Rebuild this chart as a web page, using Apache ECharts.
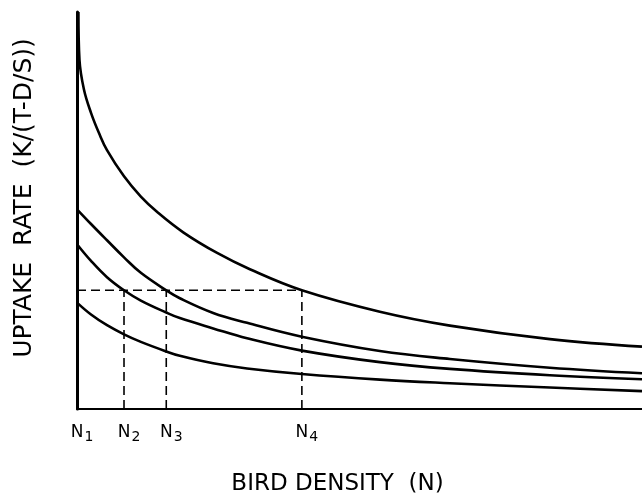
<!DOCTYPE html>
<html>
<head>
<meta charset="utf-8">
<script src="https://cdn.jsdelivr.net/npm/echarts@6/dist/echarts.min.js"></script>
<style>
  html, body { margin: 0; padding: 0; background: #fff; }
  #chart { width: 642px; height: 501px; }
</style>
</head>
<body>
<div id="chart"></div>
<script>
// bird density (x) and uptake rate (y)
const densityTop = [0.25, 0.44, 1.24, 2.48, 3.89, 5.31, 8.32, 11.3, 14.2, 18.8, 24.8, 30.6, 39.8, 53.6, 66, 83.7, 100]
const rateTop = [100, 87.9, 80.4, 74.6, 69.5, 65.2, 58.6, 53.5, 49.6, 44.5, 39.3, 35.2, 29.9, 24.5, 21.0, 17.6, 15.7]

const density = [0, 2.48, 5.31, 8.32, 11.3, 15.8, 18.2, 24.1, 30.1, 39.8, 53.6, 66, 83.7, 100]
const rateSecond = [50.3, 46.6, 42.5, 38.2, 34.3, 29.9, 27.9, 24.2, 21.7, 18.2, 14.6, 12.6, 10.4, 9.0]
const rateThird = [41.5, 37.3, 33.2, 29.9, 27.3, 24.3, 22.9, 20.3, 17.8, 14.7, 11.8, 10.1, 8.5, 7.5]
const rateBottom = [26.8, 23.8, 21.1, 18.8, 16.9, 14.5, 13.4, 11.5, 10.2, 8.8, 7.4, 6.5, 5.4, 4.5]

// the marked densities N1..N4 and the common uptake level
const nValues = [0, 8.32, 15.8, 39.8]
const nSubs = ['1', '2', '3', '4']
const uptakeLevel = 29.9

const zip = (xs, ys) => xs.map((x, i) => [x, ys[i]])

const curve = (data) => ({
  type: 'line',
  data: data,
  smooth: 0.4,
  symbol: 'none',
  lineStyle: { color: '#000', width: 2.6 },
  silent: true
})

const dashed = (data) => ({
  type: 'line',
  data: data,
  symbol: 'none',
  lineStyle: { color: '#000', width: 1.6, type: [9, 5] },
  silent: true
})

const series = [
  curve(zip(densityTop, rateTop)),
  curve(zip(density, rateSecond)),
  curve(zip(density, rateThird)),
  curve(zip(density, rateBottom)),
  dashed([[nValues[0], uptakeLevel], [nValues[3], uptakeLevel]])
]
nValues.slice(1).forEach(n => {
  series.push(dashed([[n, 0], [n, uptakeLevel]]))
})

const chart = echarts.init(document.getElementById('chart'))

chart.setOption({
  backgroundColor: '#fff',
  animation: false,
  textStyle: { fontFamily: 'DejaVu Sans', color: '#000' },
  grid: { left: 77, right: 0, top: 12, bottom: 91 },
  xAxis: {
    type: 'value',
    min: 0,
    max: 100,
    name: 'BIRD DENSITY  (N)',
    nameLocation: 'middle',
    nameGap: 64,
    nameTextStyle: { fontSize: 23, color: '#000', padding: [0, 44, 0, 0] },
    axisLine: { lineStyle: { color: '#000', width: 2 } },
    axisTick: { show: false },
    splitLine: { show: false },
    axisLabel: {
      customValues: nValues,
      margin: 13,
      formatter: (v) => {
        const i = nValues.indexOf(v)
        return '{p|}{n|N}{s|' + nSubs[i] + '}'
      },
      rich: {
        p: { width: 10 },
        n: { fontSize: 17, color: '#000' },
        s: { fontSize: 14, color: '#000', padding: [8, 0, 0, 1] }
      }
    }
  },
  yAxis: {
    type: 'value',
    min: 0,
    max: 100,
    name: 'UPTAKE  RATE  (K/(T-D/S))',
    nameLocation: 'middle',
    nameGap: 40,
    nameTextStyle: { fontSize: 25, color: '#000', padding: [0, 0, 0, 25] },
    axisLine: { show: true, lineStyle: { color: '#000', width: 3 } },
    axisTick: { show: false },
    axisLabel: { show: false },
    splitLine: { show: false }
  },
  series: series
})
</script>
</body>
</html>
